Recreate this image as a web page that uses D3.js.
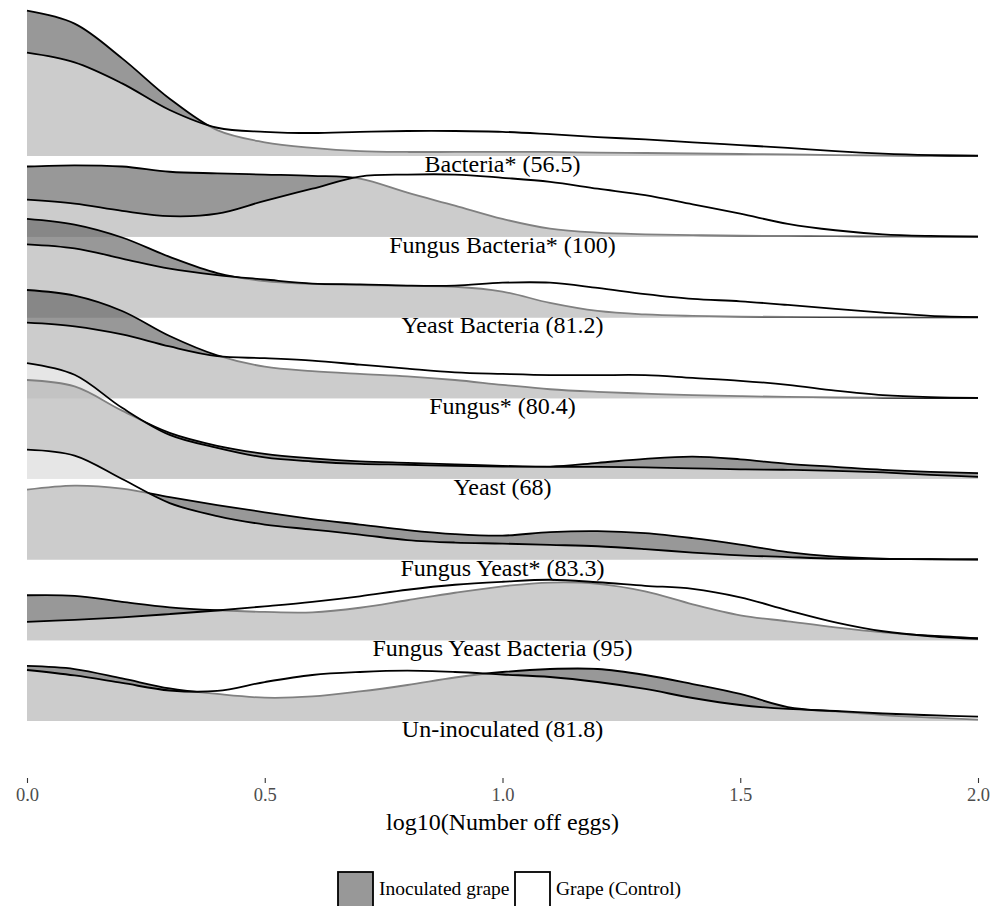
<!DOCTYPE html>
<html>
<head>
<meta charset="utf-8">
<script src="https://cdn.jsdelivr.net/npm/d3@7"></script>
<style>
  body { margin: 0; background: #fff; }
  svg { display: block; font-family: "Liberation Serif", "Times New Roman", serif; }
</style>
</head>
<body>
<svg id="chart" width="1005" height="906"></svg>
<script>
// Treatment groups, top ridge first
const groups = ["Bacteria", "Fungus Bacteria", "Yeast Bacteria", "Fungus", "Yeast",
                "Fungus Yeast", "Fungus Yeast Bacteria", "Un-inoculated"];
const groupLabels = ["Bacteria* (56.5)", "Fungus Bacteria* (100)", "Yeast Bacteria (81.2)",
                     "Fungus* (80.4)", "Yeast (68)", "Fungus Yeast* (83.3)",
                     "Fungus Yeast Bacteria (95)", "Un-inoculated (81.8)"];

// log10(egg count) grid where the densities are evaluated
const xGrid = [0, 0.1, 0.2, 0.3, 0.4, 0.5, 0.6, 0.7, 0.8, 0.9, 1.0,
               1.1, 1.2, 1.3, 1.4, 1.5, 1.6, 1.7, 1.8, 1.9, 2.0];
const xTicks = [0, 0.5, 1.0, 1.5, 2.0];
const legendItems = ["Inoculated grape", "Grape (Control)"];

// Scaled densities (1 = one ridge step), inoculated grape
const inocBacteria = [1.80, 1.64, 1.21, 0.71, 0.32, 0.17, 0.10, 0.06, 0.05, 0.05, 0.05, 0.05, 0.043, 0.037, 0.031, 0.025, 0.019, 0.012, 0.007, 0.004, 0.002];
const inocFungusBacteria = [0.87, 0.885, 0.87, 0.805, 0.785, 0.77, 0.755, 0.72, 0.545, 0.385, 0.22, 0.10, 0.05, 0.03, 0.02, 0.012, 0.01, 0.007, 0.005, 0.002, 0.001];
const inocYeastBacteria = [1.22, 1.15, 0.99, 0.75, 0.55, 0.45, 0.415, 0.40, 0.39, 0.38, 0.32, 0.18, 0.08, 0.037, 0.019, 0.01, 0.006, 0.004, 0.002, 0.001, 0.001];
const inocFungus = [1.34, 1.27, 1.08, 0.77, 0.53, 0.39, 0.335, 0.30, 0.27, 0.225, 0.165, 0.11, 0.078, 0.056, 0.037, 0.025, 0.015, 0.009, 0.005, 0.002, 0.001];
const inocYeast = [1.225, 1.145, 0.845, 0.57, 0.41, 0.31, 0.255, 0.217, 0.198, 0.18, 0.161, 0.152, 0.198, 0.248, 0.276, 0.242, 0.186, 0.149, 0.112, 0.087, 0.071];
const inocFungusYeast = [0.867, 0.917, 0.88, 0.775, 0.675, 0.586, 0.502, 0.434, 0.366, 0.316, 0.297, 0.341, 0.353, 0.328, 0.266, 0.186, 0.093, 0.037, 0.012, 0.005, 0.002];
const inocFungusYeastBacteria = [0.558, 0.551, 0.477, 0.409, 0.372, 0.351, 0.347, 0.403, 0.496, 0.589, 0.669, 0.715, 0.70, 0.607, 0.446, 0.31, 0.235, 0.161, 0.099, 0.056, 0.025];
const inocUninoculated = [0.682, 0.644, 0.527, 0.403, 0.335, 0.289, 0.304, 0.366, 0.446, 0.539, 0.607, 0.644, 0.644, 0.57, 0.458, 0.335, 0.173, 0.118, 0.074, 0.043, 0.016];

// Scaled densities, grape (control)
const ctrlBacteria = [1.28, 1.16, 0.90, 0.57, 0.35, 0.30, 0.285, 0.30, 0.31, 0.31, 0.30, 0.27, 0.235, 0.205, 0.17, 0.135, 0.10, 0.06, 0.03, 0.012, 0.004];
const ctrlFungusBacteria = [0.46, 0.41, 0.32, 0.255, 0.285, 0.445, 0.595, 0.745, 0.77, 0.77, 0.73, 0.68, 0.595, 0.515, 0.40, 0.285, 0.16, 0.08, 0.03, 0.01, 0.002];
const ctrlYeastBacteria = [0.905, 0.855, 0.73, 0.605, 0.525, 0.47, 0.42, 0.41, 0.395, 0.395, 0.43, 0.43, 0.365, 0.29, 0.23, 0.20, 0.155, 0.105, 0.06, 0.02, 0.005];
const ctrlFungus = [0.935, 0.89, 0.79, 0.64, 0.52, 0.495, 0.465, 0.415, 0.365, 0.32, 0.30, 0.285, 0.285, 0.285, 0.25, 0.215, 0.165, 0.093, 0.037, 0.012, 0.004];
const ctrlYeast = [1.435, 1.29, 0.88, 0.545, 0.385, 0.265, 0.215, 0.185, 0.175, 0.16, 0.152, 0.149, 0.149, 0.142, 0.13, 0.118, 0.112, 0.10, 0.08, 0.05, 0.025];
const ctrlFungusYeast = [1.363, 1.289, 0.998, 0.70, 0.539, 0.434, 0.372, 0.31, 0.242, 0.211, 0.198, 0.182, 0.165, 0.13, 0.087, 0.053, 0.031, 0.012, 0.007, 0.004, 0.001];
const ctrlFungusYeastBacteria = [0.227, 0.254, 0.285, 0.325, 0.369, 0.421, 0.477, 0.545, 0.626, 0.688, 0.725, 0.75, 0.719, 0.675, 0.638, 0.533, 0.372, 0.223, 0.112, 0.05, 0.019];
const ctrlUninoculated = [0.632, 0.564, 0.471, 0.378, 0.372, 0.483, 0.57, 0.607, 0.623, 0.607, 0.576, 0.545, 0.483, 0.397, 0.285, 0.198, 0.149, 0.124, 0.093, 0.071, 0.053];

const inoculated = [inocBacteria, inocFungusBacteria, inocYeastBacteria, inocFungus,
                    inocYeast, inocFungusYeast, inocFungusYeastBacteria, inocUninoculated];
const control = [ctrlBacteria, ctrlFungusBacteria, ctrlYeastBacteria, ctrlFungus,
                 ctrlYeast, ctrlFungusYeast, ctrlFungusYeastBacteria, ctrlUninoculated];

const FONT = "Liberation Serif, Times New Roman, serif";
const svg = d3.select("#chart");

const x = d3.scaleLinear().domain([0, 2]).range([27, 978]);
// ridge position: bottom group sits at 0, top group at groups.length - 1
const y = d3.scaleLinear().domain([0, groups.length - 1]).range([721, 156]);
const pos = i => groups.length - 1 - i;

const styles = {
  inoc: { fill: "#666666", opacity: 0.67 },
  ctrl: { fill: "#ffffff", opacity: 0.5 }
};

function ridge(g, base, values, style) {
  const area = d3.area()
    .x((d, i) => x(xGrid[i]))
    .y0(y(base))
    .y1(d => y(base + d))
    .curve(d3.curveCatmullRom);
  const line = d3.line()
    .x((d, i) => x(xGrid[i]))
    .y(d => y(base + d))
    .curve(d3.curveCatmullRom);
  g.append("path").attr("d", area(values))
    .attr("fill", style.fill).attr("fill-opacity", style.opacity).attr("stroke", "none");
  g.append("path").attr("d", line(values))
    .attr("fill", "none").attr("stroke", "#000").attr("stroke-width", 1.8)
    .attr("stroke-linejoin", "round");
}

// top ridge drawn first so lower ridges overlap it
const ridges = svg.append("g");
groups.forEach((name, i) => {
  const g = ridges.append("g").attr("class", "ridge");
  ridge(g, pos(i), inoculated[i], styles.inoc);
  ridge(g, pos(i), control[i], styles.ctrl);
});

// group labels beneath each baseline
svg.append("g").selectAll("text")
  .data(groupLabels)
  .join("text")
  .attr("x", x(1))
  .attr("y", (d, i) => y(pos(i)) + 16)
  .attr("text-anchor", "middle")
  .attr("font-family", FONT)
  .attr("font-size", 24)
  .attr("fill", "#000")
  .text(d => d);

// x axis
const axis = svg.append("g")
  .attr("transform", "translate(0,778)")
  .call(d3.axisBottom(x).tickValues(xTicks).tickFormat(d3.format(".1f"))
    .tickSize(5).tickPadding(5));
axis.attr("font-family", FONT);
axis.select(".domain").remove();
axis.selectAll(".tick line").attr("stroke", "#333").attr("stroke-width", 1.1);
axis.selectAll(".tick text")
  .attr("fill", "#4d4d4d")
  .attr("font-size", 18.5)
  .attr("font-family", FONT);

svg.append("text")
  .attr("x", x(1))
  .attr("y", 830)
  .attr("text-anchor", "middle")
  .attr("font-family", FONT)
  .attr("font-size", 24)
  .text("log10(Number off eggs)");

// legend
const legendX = [338, 515];
const legend = svg.append("g");
legendItems.forEach((label, i) => {
  const st = i === 0 ? styles.inoc : styles.ctrl;
  legend.append("rect")
    .attr("x", legendX[i]).attr("y", 872)
    .attr("width", 35).attr("height", 36)
    .attr("fill", "#fff");
  legend.append("rect")
    .attr("x", legendX[i]).attr("y", 872)
    .attr("width", 35).attr("height", 36)
    .attr("fill", st.fill).attr("fill-opacity", st.opacity)
    .attr("stroke", "#000").attr("stroke-width", 1.8);
  legend.append("text")
    .attr("x", legendX[i] + 41).attr("y", 895)
    .attr("font-family", FONT)
    .attr("font-size", 19.5)
    .text(label);
});
</script>
</body>
</html>
